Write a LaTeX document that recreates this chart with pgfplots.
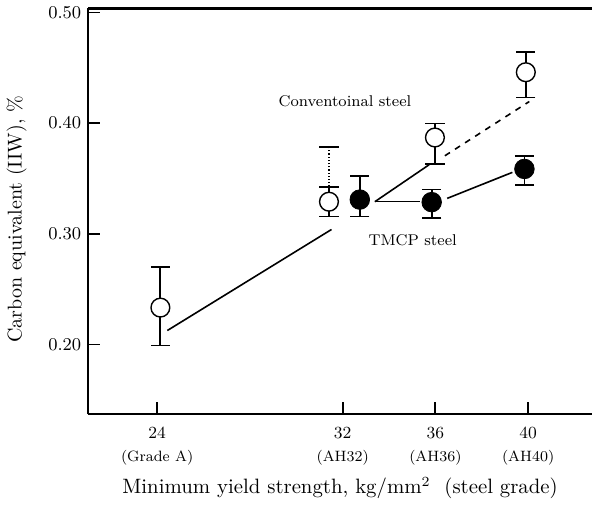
\documentclass[border=0pt]{standalone}
\usepackage{pgfplots}
\pgfplotsset{compat=1.18}
\begin{document}
\begin{tikzpicture}
\begin{axis}[
  scale only axis,
  width=252pt, height=203pt,
  xmin=21.03, xmax=42.75,
  ymin=0.137, ymax=0.5036,
  axis x line*=box, axis y line*=left,
  axis line style={line width=1.1pt},
  tick align=inside,
  xtick pos=left, ytick pos=left,
  major tick length=6pt,
  tick style={line width=0.9pt, black},
  xtick={24,32,36,40},
  xticklabels={{24\\[1.5pt]\fontsize{7.5}{9}\selectfont(Grade A)},
               {32\\[1.5pt]\fontsize{7.5}{9}\selectfont(AH32)},
               {36\\[1.5pt]\fontsize{7.5}{9}\selectfont(AH36)},
               {40\\[1.5pt]\fontsize{7.5}{9}\selectfont(AH40)}},
  xticklabel style={align=center, font=\fontsize{8.5}{10}\selectfont, yshift=-3pt},
  ytick={0.2,0.3,0.4,0.5},
  yticklabel style={font=\fontsize{9}{10}\selectfont,
    /pgf/number format/.cd, fixed, fixed zerofill, precision=2},
  xlabel={Minimum yield strength, kg/mm$^2$\ \ (steel grade)},
  ylabel={Carbon equivalent (IIW), \%},
  xlabel style={font=\fontsize{10.4}{12}\selectfont, yshift=1pt},
  ylabel style={font=\fontsize{10}{12}\selectfont, yshift=4pt, xshift=-4pt},
  clip=false,
]
% conventional steel: open circles
\addplot[only marks, mark=*, mark size=4.7pt,
  mark options={fill=white, draw=black, line width=0.7pt},
  error bars/.cd, y dir=both, y explicit,
  error bar style={line width=0.9pt, black},
  error mark options={rotate=90, mark size=4.8pt, line width=0.9pt, black}]
coordinates {
  (24.14,0.2333) += (0,0.0367) -= (0,0.0343)
  (31.41,0.329)  += (0,0.0136) -= (0,0.0134)
  (35.98,0.387)  += (0,0.0127) -= (0,0.024)
  (39.90,0.446)  += (0,0.0186) -= (0,0.0228)
};
% upper scatter at 32 (dotted)
\addplot[only marks, mark=*, mark size=0pt,
  mark options={draw=none, fill=none},
  error bars/.cd, y dir=plus, y explicit,
  error bar style={line width=0.6pt, black, densely dotted},
  error mark options={rotate=90, mark size=4.8pt, line width=0.9pt, black, solid}]
coordinates {(31.41,0.3426) += (0,0.0361)};
% TMCP steel: filled circles
\addplot[only marks, mark=*, mark size=4.9pt,
  mark options={fill=black, draw=black},
  error bars/.cd, y dir=both, y explicit,
  error bar style={line width=0.9pt, black},
  error mark options={rotate=90, mark size=4.8pt, line width=0.9pt, black}]
coordinates {
  (32.74,0.3309) += (0,0.0211) -= (0,0.0153)
  (35.84,0.3286) += (0,0.0114) -= (0,0.0146)
  (39.84,0.3586) += (0,0.0119) -= (0,0.0146)
};
% trend lines
\addplot[black, line width=0.8pt, no marks] coordinates {(24.44,0.2126) (31.52,0.3039)};
\addplot[black, line width=0.8pt, no marks] coordinates {(33.39,0.329) (35.73,0.3624)};
\addplot[black, line width=0.8pt, no marks] coordinates {(33.39,0.329) (35.33,0.329)};
\addplot[black, line width=0.8pt, no marks] coordinates {(36.51,0.332) (39.32,0.3555)};
\addplot[black, line width=0.8pt, no marks, dashed] coordinates {(36.41,0.3705) (40.05,0.4195)};
\node[font=\fontsize{7.8}{9}\selectfont] at (axis cs:32.1,0.4198) {Conventoinal steel};
\node[font=\fontsize{7.8}{9}\selectfont] at (axis cs:35.02,0.294) {TMCP steel};
\end{axis}
\end{tikzpicture}
\end{document}
